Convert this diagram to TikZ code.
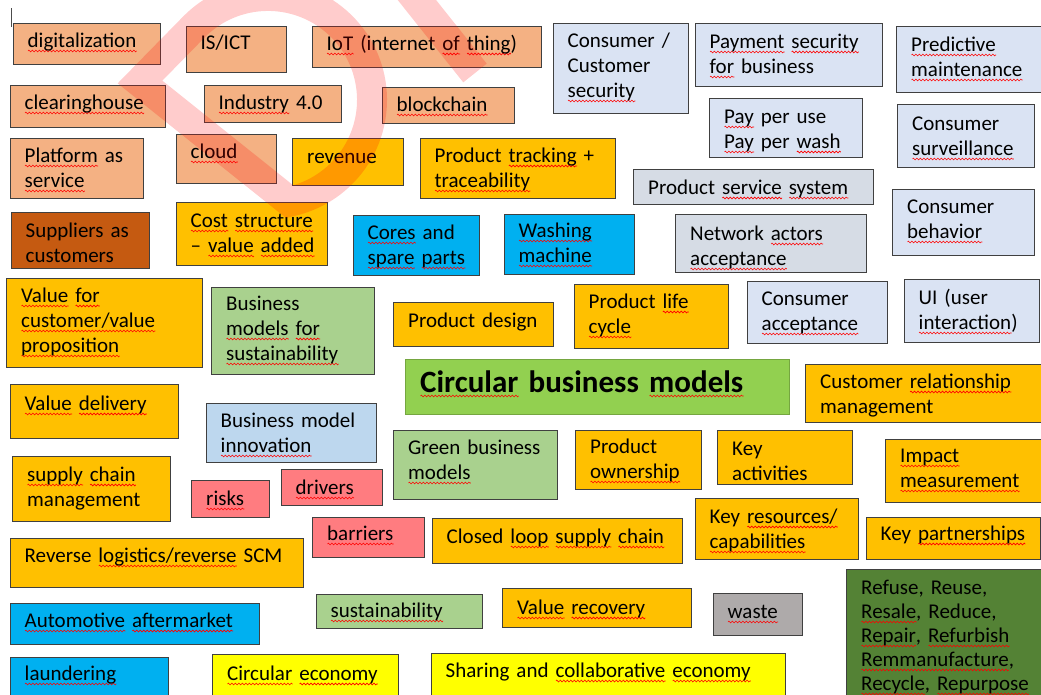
\documentclass[tikz,border=0pt]{standalone}
\usepackage{fontspec}
\setmainfont{Carlito}
\usetikzlibrary{decorations.pathmorphing}
\definecolor{peach}{HTML}{F4B183}
\definecolor{gold}{HTML}{FFC000}
\definecolor{lblue}{HTML}{DAE3F3}
\definecolor{gblue}{HTML}{D6DCE5}
\definecolor{cyanbox}{HTML}{00B0F0}
\definecolor{rust}{HTML}{C55A11}
\definecolor{lgreen}{HTML}{A9D18E}
\definecolor{bmblue}{HTML}{BDD7EE}
\definecolor{cgreen}{HTML}{92D050}
\definecolor{salmon}{HTML}{FF7C80}
\definecolor{wgrey}{HTML}{AEAAAA}
\definecolor{dgreen}{HTML}{548235}
\definecolor{yel}{HTML}{FFFF00}
\definecolor{boxline}{HTML}{404040}
% red wavy spelling mark under a word
\newsavebox\spellbox
\newdimen\spellw
\newcommand\spellmark[1]{\leavevmode\sbox\spellbox{#1}\spellw=\wd\spellbox
  \rlap{\smash{\tikz[baseline=0pt]\draw[red, line width=0.6pt, decorate,
    decoration={zigzag, amplitude=0.9pt, segment length=3.5pt}]
    (0pt,-4pt) -- (\spellw,-4pt);}}\usebox\spellbox}

\begin{document}
\begin{tikzpicture}[x=1pt, y=-1pt,
  font=\fontsize{21}{25}\selectfont,
  tb/.style={draw=boxline, line width=1.3pt, anchor=north west, inner sep=0pt},
  tt/.style={anchor=base west, inner sep=0pt, align=left, text width=330pt},
  wmark/.style={draw=red, draw opacity=0.2, line width=30pt, line join=miter}]
  \useasboundingbox (0,0) rectangle (1041,694);
  \fill[white] (0,0) rectangle (1041,694);
  \draw[line width=1pt, black!70] (11,8) -- (11,27);

  % first rows, peach
  \node[tb, fill=peach, minimum width=147pt, minimum height=41pt] (dig) at (13,23) {};
  \node[tt] (dig-t) at ([xshift=14.5pt,yshift=-24pt]dig.north west) {\spellmark{digitalization}};
  \node[tb, fill=peach, minimum width=100pt, minimum height=46pt] (isict) at (186,26) {};
  \node[tt] (isict-t) at ([xshift=14.5pt,yshift=-23pt]isict.north west) {IS/ICT};
  \node[tb, fill=peach, minimum width=229pt, minimum height=41pt] (iot) at (312,26) {};
  \node[tt] (iot-t) at ([xshift=14.5pt,yshift=-24pt]iot.north west) {\spellmark{IoT} (internet \spellmark{of} \spellmark{thing})};
  \node[tb, fill=peach, minimum width=155pt, minimum height=42pt] (clear) at (10,85) {};
  \node[tt] (clear-t) at ([xshift=14.5pt,yshift=-24pt]clear.north west) {\spellmark{clearinghouse}};
  \node[tb, fill=peach, minimum width=137pt, minimum height=37pt] (ind) at (204,85) {};
  \node[tt] (ind-t) at ([xshift=14.5pt,yshift=-24pt]ind.north west) {\spellmark{Industry} 4.0};
  \node[tb, fill=peach, minimum width=132pt, minimum height=36pt] (block) at (382,87) {};
  \node[tt] (block-t) at ([xshift=14.5pt,yshift=-24pt]block.north west) {\spellmark{blockchain}};
  \node[tb, fill=peach, minimum width=133pt, minimum height=60pt] (paas) at (10,138) {};
  \node[tt] (paas-t) at ([xshift=14.5pt,yshift=-24pt]paas.north west) {\spellmark{Platform} as\\\spellmark{service}};
  \node[tb, fill=peach, minimum width=100pt, minimum height=49pt] (cloud) at (176,134) {};
  \node[tt] (cloud-t) at ([xshift=14.5pt,yshift=-24pt]cloud.north west) {\spellmark{cloud}};

  % gold and cyan, upper left
  \node[tb, fill=gold, minimum width=111pt, minimum height=47pt] (rev) at (292,138) {};
  \node[tt] (rev-t) at ([xshift=15pt,yshift=-25pt]rev.north west) {revenue};
  \node[tb, fill=gold, minimum width=195pt, minimum height=60pt] (track) at (420,138) {};
  \node[tt] (track-t) at ([xshift=14.5pt,yshift=-24pt]track.north west) {Product \spellmark{tracking} +\\\spellmark{traceability}};
  \node[tb, fill=rust, minimum width=138pt, minimum height=56pt] (supp) at (11,212) {};
  \node[tt] (supp-t) at ([xshift=14.5pt,yshift=-25pt]supp.north west) {Suppliers as\\customers};
  \node[tb, fill=gold, minimum width=151pt, minimum height=63pt] (cost) at (176,202) {};
  \node[tt] (cost-t) at ([xshift=14.5pt,yshift=-25pt]cost.north west) {\spellmark{Cost} \spellmark{structure}\\– \spellmark{value} \spellmark{added}};
  \node[tb, fill=cyanbox, minimum width=126pt, minimum height=60pt] (cores) at (353,215) {};
  \node[tt] (cores-t) at ([xshift=14.5pt,yshift=-24pt]cores.north west) {\spellmark{Cores} and\\\spellmark{spare} \spellmark{parts}};
  \node[tb, fill=cyanbox, minimum width=130pt, minimum height=60pt] (wash) at (504,214) {};
  \node[tt] (wash-t) at ([xshift=14.5pt,yshift=-23pt]wash.north west) {\spellmark{Washing}\\\spellmark{machine}};

  % consumer side, top right
  \node[tb, fill=lblue, minimum width=135pt, minimum height=90pt] (consec) at (553,23) {};
  \node[tt] (consec-t) at ([xshift=14.5pt,yshift=-24pt]consec.north west) {Consumer /\\Customer\\\spellmark{security}};
  \node[tb, fill=lblue, minimum width=187pt, minimum height=63pt] (paysec) at (695,23) {};
  \node[tt] (paysec-t) at ([xshift=14.5pt,yshift=-25pt]paysec.north west) {\spellmark{Payment} \spellmark{security}\\\spellmark{for} business};
  \node[tb, fill=lblue, minimum width=146pt, minimum height=66pt] (pred) at (896,26) {};
  \node[tt] (pred-t) at ([xshift=15pt,yshift=-25pt]pred.north west) {\spellmark{Predictive}\\\spellmark{maintenance}};
  \node[tb, fill=lblue, minimum width=153pt, minimum height=59pt] (ppu) at (709,98) {};
  \node[tt] (ppu-t) at ([xshift=15pt,yshift=-25pt]ppu.north west) {\spellmark{Pay} per use\\\spellmark{Pay} per \spellmark{wash}};
  \node[tb, fill=lblue, minimum width=137pt, minimum height=63pt] (surv) at (897,104) {};
  \node[tt] (surv-t) at ([xshift=15pt,yshift=-26pt]surv.north west) {Consumer\\\spellmark{surveillance}};
  \node[tb, fill=gblue, minimum width=240pt, minimum height=35pt] (pss) at (633,169) {};
  \node[tt] (pss-t) at ([xshift=15pt,yshift=-25pt]pss.north west) {Product \spellmark{service} \spellmark{system}};
  \node[tb, fill=gblue, minimum width=191pt, minimum height=58pt] (netw) at (675,214) {};
  \node[tt] (netw-t) at ([xshift=15pt,yshift=-26pt]netw.north west) {Network \spellmark{actors}\\\spellmark{acceptance}};
  \node[tb, fill=lblue, minimum width=142pt, minimum height=66pt] (behav) at (892,189) {};
  \node[tt] (behav-t) at ([xshift=15pt,yshift=-24pt]behav.north west) {Consumer\\\spellmark{behavior}};

  % middle band
  \node[tb, fill=gold, minimum width=196pt, minimum height=89pt] (vfc) at (6,278) {};
  \node[tt] (vfc-t) at ([xshift=15pt,yshift=-24pt]vfc.north west) {\spellmark{Value} \spellmark{for}\\\spellmark{customer/value}\\\spellmark{proposition}};
  \node[tb, fill=lgreen, minimum width=163pt, minimum height=87pt] (bms) at (211,287) {};
  \node[tt] (bms-t) at ([xshift=15pt,yshift=-23pt]bms.north west) {Business\\\spellmark{models} \spellmark{for}\\\spellmark{sustainability}};
  \node[tb, fill=gold, minimum width=160pt, minimum height=44pt] (pdes) at (393,302) {};
  \node[tt] (pdes-t) at ([xshift=15pt,yshift=-25pt]pdes.north west) {Product design};
  \node[tb, fill=gold, minimum width=154pt, minimum height=64pt] (plc) at (574,284) {};
  \node[tt] (plc-t) at ([xshift=14.5pt,yshift=-24pt]plc.north west) {Product \spellmark{life}\\\spellmark{cycle}};
  \node[tb, fill=lblue, minimum width=140pt, minimum height=62pt] (conacc) at (747,281) {};
  \node[tt] (conacc-t) at ([xshift=14.5pt,yshift=-24pt]conacc.north west) {Consumer\\\spellmark{acceptance}};
  \node[tb, fill=lblue, minimum width=135pt, minimum height=63pt] (ui) at (904,279) {};
  \node[tt] (ui-t) at ([xshift=14.5pt,yshift=-25pt]ui.north west) {UI (user\\\spellmark{interaction})};
  \node[tb, draw=cgreen!80!black, line width=0.8pt, fill=cgreen, minimum width=384pt, minimum height=55pt] (cbm) at (405,359) {};
  \node[tt, font=\bfseries\fontsize{31}{36}\selectfont] (cbm-t) at ([xshift=15pt,yshift=-33pt]cbm.north west) {\spellmark{Circular} business \spellmark{models}};
  \node[tb, fill=gold, minimum width=236pt, minimum height=58pt] (crm) at (805,364) {};
  \node[tt] (crm-t) at ([xshift=15pt,yshift=-24pt]crm.north west) {Customer \spellmark{relationship}\\management};

  % lower left
  \node[tb, fill=gold, minimum width=168pt, minimum height=54pt] (vdel) at (10,384) {};
  \node[tt] (vdel-t) at ([xshift=14.5pt,yshift=-26pt]vdel.north west) {\spellmark{Value} \spellmark{delivery}};
  \node[tb, fill=bmblue, minimum width=170pt, minimum height=59pt] (bmi) at (206,403) {};
  \node[tt] (bmi-t) at ([xshift=14.5pt,yshift=-24pt]bmi.north west) {Business model\\\spellmark{innovation}};
  \node[tb, fill=gold, minimum width=158pt, minimum height=65pt] (scm) at (12,456) {};
  \node[tt] (scm-t) at ([xshift=15pt,yshift=-25pt]scm.north west) {\spellmark{supply} \spellmark{chain}\\management};
  \node[tb, fill=salmon, minimum width=78pt, minimum height=37pt] (risks) at (191,480) {};
  \node[tt] (risks-t) at ([xshift=15pt,yshift=-25pt]risks.north west) {\spellmark{risks}};
  \node[tb, fill=salmon, minimum width=101pt, minimum height=36pt] (drivers) at (281,469) {};
  \node[tt] (drivers-t) at ([xshift=14.5pt,yshift=-25pt]drivers.north west) {\spellmark{drivers}};
  \node[tb, fill=salmon, minimum width=112pt, minimum height=40pt] (barriers) at (312,517) {};
  \node[tt] (barriers-t) at ([xshift=15pt,yshift=-23pt]barriers.north west) {\spellmark{barriers}};

  % lower middle and right
  \node[tb, fill=lgreen, minimum width=164pt, minimum height=69pt] (gbm) at (393,430) {};
  \node[tt] (gbm-t) at ([xshift=15pt,yshift=-24pt]gbm.north west) {Green business\\\spellmark{models}};
  \node[tb, fill=gold, minimum width=126pt, minimum height=59pt] (pown) at (575,430) {};
  \node[tt] (pown-t) at ([xshift=15pt,yshift=-23pt]pown.north west) {Product\\\spellmark{ownership}};
  \node[tb, fill=gold, minimum width=135pt, minimum height=54pt] (keyact) at (717,430) {};
  \node[tt] (keyact-t) at ([xshift=15pt,yshift=-25pt]keyact.north west) {Key\\activities};
  \node[tb, fill=gold, minimum width=156pt, minimum height=63pt] (impact) at (885,439) {};
  \node[tt] (impact-t) at ([xshift=15pt,yshift=-23pt]impact.north west) {\spellmark{Impact}\\\spellmark{measurement}};
  \node[tb, fill=gold, minimum width=250pt, minimum height=45pt] (clsc) at (432,518) {};
  \node[tt] (clsc-t) at ([xshift=14.5pt,yshift=-25pt]clsc.north west) {Closed \spellmark{loop} \spellmark{supply} \spellmark{chain}};
  \node[tb, fill=gold, minimum width=163pt, minimum height=61pt] (keyres) at (695,498) {};
  \node[tt] (keyres-t) at ([xshift=14.5pt,yshift=-25pt]keyres.north west) {Key \spellmark{resources/}\\\spellmark{capabilities}};
  \node[tb, fill=gold, minimum width=174pt, minimum height=42pt] (keypart) at (866,517) {};
  \node[tt] (keypart-t) at ([xshift=14.5pt,yshift=-23pt]keypart.north west) {Key \spellmark{partnerships}};

  % bottom rows
  \node[tb, fill=gold, minimum width=293pt, minimum height=49pt] (rl) at (10,538) {};
  \node[tt] (rl-t) at ([xshift=14.5pt,yshift=-24pt]rl.north west) {Reverse \spellmark{logistics/reverse} SCM};
  \node[tb, fill=cyanbox, minimum width=249pt, minimum height=41pt] (auto) at (10,603) {};
  \node[tt] (auto-t) at ([xshift=14.5pt,yshift=-24pt]auto.north west) {\spellmark{Automotive} \spellmark{aftermarket}};
  \node[tb, fill=cyanbox, minimum width=158pt, minimum height=44pt] (laund) at (10,657) {};
  \node[tt] (laund-t) at ([xshift=14.5pt,yshift=-23pt]laund.north west) {\spellmark{laundering}};
  \node[tb, fill=lgreen, minimum width=166pt, minimum height=34pt] (sust) at (316,594) {};
  \node[tt] (sust-t) at ([xshift=14.5pt,yshift=-23pt]sust.north west) {\spellmark{sustainability}};
  \node[tb, fill=gold, minimum width=189pt, minimum height=39pt] (vrec) at (502,588) {};
  \node[tt] (vrec-t) at ([xshift=15pt,yshift=-26pt]vrec.north west) {\spellmark{Value} \spellmark{recovery}};
  \node[tb, fill=wgrey, minimum width=89pt, minimum height=42pt] (waste) at (713,593) {};
  \node[tt] (waste-t) at ([xshift=14.5pt,yshift=-25pt]waste.north west) {\spellmark{waste}};
  \node[tb, fill=yel, minimum width=186pt, minimum height=47pt] (ce) at (212,654) {};
  \node[tt] (ce-t) at ([xshift=15pt,yshift=-26pt]ce.north west) {\spellmark{Circular} \spellmark{economy}};
  \node[tb, fill=yel, minimum width=354pt, minimum height=47pt] (share) at (431,653) {};
  \node[tt] (share-t) at ([xshift=14.5pt,yshift=-24pt]share.north west) {Sharing and \spellmark{collaborative} \spellmark{economy}};
  \node[tb, fill=dgreen, minimum width=200pt, minimum height=135pt] (rs) at (846,569) {};
  \node[tt, font=\fontsize{21}{24}\selectfont] (rs-t) at ([xshift=15pt,yshift=-25pt]rs.north west)
    {Refuse, Reuse,\\\spellmark{Resale}, Reduce,\\\spellmark{Repair}, \spellmark{Refurbish}\\\spellmark{Remmanufacture},\\\spellmark{Recycle}, \spellmark{Repurpose}};

  % pale watermark over the boxes
  \draw[wmark] (140,82) -- (193.6,27.3) arc[start angle=-135.7, end angle=78, radius=104] -- cycle;
  \draw[wmark] (397,-25) -- (475,73);
\end{tikzpicture}
\end{document}
